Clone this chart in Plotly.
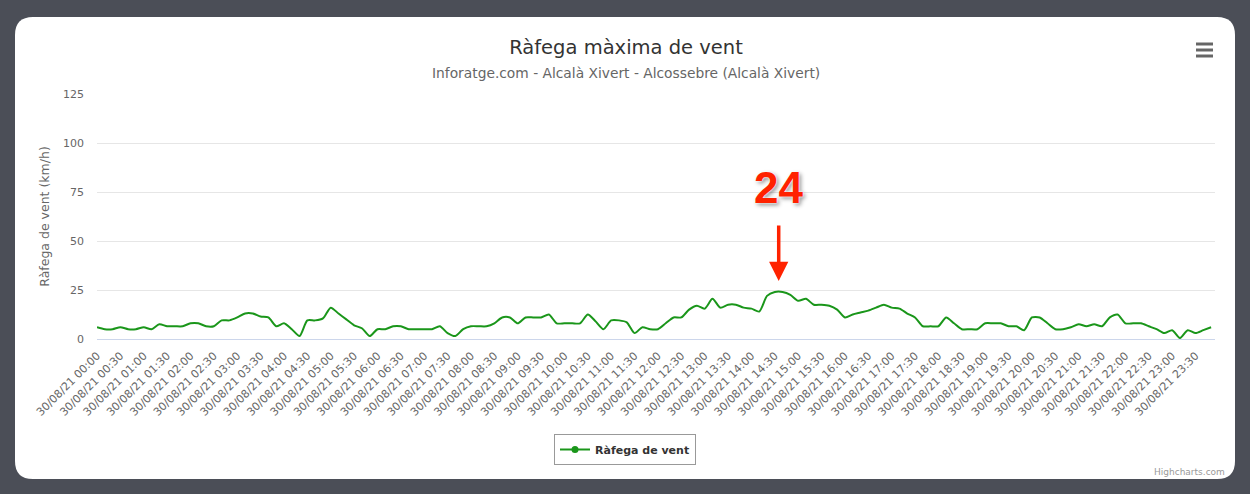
import plotly.graph_objects as go

# ---------------- data ----------------
categories = [f"30/08/21 {h:02d}:{m:02d}" for h in range(24) for m in (0, 10, 20, 30, 40, 50)]
gust_kmh = [
    6, 5, 5, 6, 5, 5, 6, 5, 7.5, 6.5, 6.5, 6.5, 8, 8, 6.5, 6.5, 9.5, 9.5, 11, 13,
    13, 11.5, 11, 6.5, 8, 5, 1.5, 9.5, 9.5, 10.5, 16, 13, 10, 7, 5.5, 1.5, 5, 5, 6.5, 6.5,
    5, 5, 5, 5, 6.5, 3, 1.5, 5, 6.5, 6.5, 6.5, 8, 11, 11, 8, 11, 11, 11, 12.5, 8,
    8, 8, 8, 12.5, 9, 5, 9.5, 9.5, 8.5, 3, 6, 5, 5, 8, 11, 11, 15, 17, 15.5, 20.5,
    16, 17.5, 17.5, 16, 15.5, 14, 22, 24, 24, 22.5, 19.5, 20.5, 17.5, 17.5, 17, 15, 11, 12.5, 13.5, 14.5,
    16, 17.5, 16, 15.5, 13, 11, 6.5, 6.5, 6.5, 11, 8, 5, 5, 5, 8, 8, 8, 6.5, 6.5, 4.5,
    11, 11, 8, 5, 5, 6, 7.5, 6.5, 7.5, 6.5, 11, 12.5, 8, 8, 8, 6.5, 5, 3, 4.5, 0.5,
    4.5, 3, 4.5, 6,
]
tick_idx = list(range(0, len(categories), 3))
tick_labels = [categories[i] for i in tick_idx]
y_ticks = [0, 25, 50, 75, 100, 125]
peak_label = "24"
peak_index = 87.5

# ---------------- layout geometry ----------------
W, H = 1250, 494
L, R, T, B = 97, 35, 94, 155
PW, PH = W - L - R, H - T - B

def px(x):
    return (x - L) / PW

def py(y):
    return (H - B - y) / PH

FONT = "DejaVu Sans"
GREEN = "#1a961a"

fig = go.Figure()
fig.add_trace(go.Scatter(
    x=list(range(len(gust_kmh))), y=gust_kmh, mode="lines",
    line=dict(color=GREEN, width=2, shape="spline", smoothing=0.7),
    showlegend=False, hoverinfo="y",
))
fig.add_trace(go.Scatter(
    x=[None], y=[None], mode="lines+markers", name="Ràfega de vent",
    line=dict(color=GREEN, width=2), marker=dict(color=GREEN, size=7),
))

# rounded white card
x0, x1, y0, y1, r = 15, 1235, 17, 479, 18
rx, ry = r / PW, r / PH
path = (
    f"M {px(x0)+rx},{py(y0)} L {px(x1)-rx},{py(y0)} Q {px(x1)},{py(y0)} {px(x1)},{py(y0)-ry} "
    f"L {px(x1)},{py(y1)+ry} Q {px(x1)},{py(y1)} {px(x1)-rx},{py(y1)} "
    f"L {px(x0)+rx},{py(y1)} Q {px(x0)},{py(y1)} {px(x0)},{py(y1)+ry} "
    f"L {px(x0)},{py(y0)-ry} Q {px(x0)},{py(y0)} {px(x0)+rx},{py(y0)} Z"
)
shapes = [dict(type="path", xref="paper", yref="paper", path=path,
               fillcolor="white", line=dict(width=0), layer="below")]
# hamburger menu
for yy in (44, 50, 56):
    shapes.append(dict(type="line", xref="paper", yref="paper",
                       x0=px(1196), x1=px(1213), y0=py(yy), y1=py(yy),
                       line=dict(color="#666666", width=3)))

annotations = [
    dict(text="Inforatge.com - Alcalà Xivert - Alcossebre (Alcalà Xivert)",
         xref="paper", yref="paper", x=px(626), y=py(73), xanchor="center", yanchor="middle",
         showarrow=False, font=dict(family=FONT, size=13.8, color="#666666")),
    dict(text="Highcharts.com", xref="paper", yref="paper", x=px(1227), y=py(472),
         xanchor="right", yanchor="middle", showarrow=False,
         font=dict(family=FONT, size=9, color="#999999")),
    dict(text=peak_label, x=peak_index, y=24, xref="x", yref="y", showarrow=False,
         yshift=104, yanchor="middle",
         font=dict(family="Liberation Sans", size=44, color="#ff2200", weight="bold",
                   shadow="0 0 2px white, 0 0 2px white, 2px 2px 4px rgba(0,0,0,0.45)")),
    dict(text="", x=peak_index, y=24, xref="x", yref="y", showarrow=True,
         ax=0, ay=-68, standoff=11, arrowhead=2, arrowsize=1.1, arrowwidth=3.5,
         arrowcolor="#ff2200"),
]

fig.update_layout(
    width=W, height=H,
    margin=dict(l=L, r=R, t=T, b=B),
    paper_bgcolor="#4b4e57", plot_bgcolor="white",
    font=dict(family=FONT, color="#666666"),
    title=dict(text="Ràfega màxima de vent", x=px(626), xref="paper", xanchor="center",
               y=1 - 47 / H, yref="container", yanchor="middle",
               font=dict(family=FONT, size=19.5, color="#333333")),
    shapes=shapes, annotations=annotations,
    legend=dict(orientation="h", x=px(625), xanchor="center", y=py(434), yanchor="top",
                bordercolor="#999999", borderwidth=1, bgcolor="white",
                itemwidth=30, tracegroupgap=0,
                font=dict(family=FONT, size=11, color="#333333", weight="bold")),
    showlegend=True,
    xaxis=dict(range=[0, 143.5], tickmode="array", tickvals=tick_idx, ticktext=tick_labels,
               tickangle=-45, tickfont=dict(size=11, color="#666666"),
               ticklabelstandoff=5,
               showgrid=False, zeroline=False, showline=True, linecolor="#ccd6eb",
               linewidth=1, ticks=""),
    yaxis=dict(range=[0, 125], tickvals=y_ticks, showgrid=True, gridcolor="#e6e6e6",
               gridwidth=1, zeroline=False, ticks="", ticklabelstandoff=12,
               tickfont=dict(size=11, color="#666666"),
               title=dict(text="Ràfega de vent (km/h)", standoff=10,
                          font=dict(size=12.5, color="#666666"))),
)

fig.write_html("out.html")
